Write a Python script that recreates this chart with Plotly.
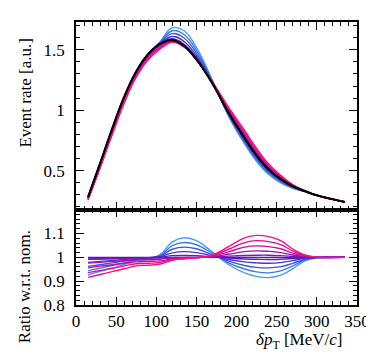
import plotly.graph_objects as go
from plotly.subplots import make_subplots

# ---- data ----
x_vals = [15, 30, 45, 60, 75, 90, 105, 120, 135, 150, 170, 190, 210, 225, 240, 255, 270, 285, 300, 335]

nominal = [0.28, 0.56, 0.845, 1.11, 1.32, 1.465, 1.55, 1.58, 1.53, 1.42, 1.22, 0.98, 0.77, 0.625, 0.51, 0.43, 0.37, 0.33, 0.295, 0.24]

ratio_b5 = [0.926, 0.941, 0.955, 0.970, 0.985, 0.993, 1.012, 1.065, 1.082, 1.070, 1.022, 0.970, 0.935, 0.920, 0.915, 0.925, 0.952, 0.985, 0.998, 1.000]
ratio_b4 = [0.944, 0.955, 0.966, 0.977, 0.989, 0.995, 1.009, 1.049, 1.062, 1.053, 1.017, 0.977, 0.951, 0.939, 0.935, 0.943, 0.964, 0.989, 0.998, 1.000]
ratio_b3 = [0.962, 0.969, 0.977, 0.984, 0.992, 0.996, 1.006, 1.034, 1.043, 1.036, 1.011, 0.984, 0.966, 0.958, 0.956, 0.961, 0.975, 0.992, 0.999, 1.000]
ratio_b2 = [0.979, 0.983, 0.987, 0.991, 0.996, 0.998, 1.003, 1.019, 1.024, 1.020, 1.006, 0.991, 0.981, 0.977, 0.975, 0.978, 0.986, 0.996, 0.999, 1.000]
ratio_b1 = [0.993, 0.994, 0.995, 0.997, 0.998, 0.999, 1.001, 1.007, 1.008, 1.007, 1.002, 0.997, 0.993, 0.992, 0.991, 0.992, 0.995, 0.998, 1.000, 1.000]
ratio_c0 = [1.000, 1.000, 1.000, 1.000, 1.000, 1.000, 1.000, 1.000, 1.000, 1.000, 1.000, 1.000, 1.000, 1.000, 1.000, 1.000, 1.000, 1.000, 1.000, 1.000]
ratio_m1 = [0.992, 0.993, 0.994, 0.995, 0.996, 0.997, 0.997, 0.999, 0.999, 1.000, 1.001, 1.005, 1.008, 1.009, 1.009, 1.007, 1.004, 1.001, 1.000, 1.000]
ratio_m2 = [0.976, 0.979, 0.983, 0.986, 0.990, 0.990, 0.992, 0.997, 0.998, 0.999, 1.003, 1.013, 1.024, 1.027, 1.025, 1.020, 1.010, 1.003, 1.000, 1.000]
ratio_m3 = [0.956, 0.963, 0.969, 0.975, 0.981, 0.983, 0.985, 0.994, 0.997, 0.999, 1.005, 1.023, 1.043, 1.048, 1.045, 1.036, 1.018, 1.005, 1.001, 1.000]
ratio_m4 = [0.936, 0.945, 0.954, 0.964, 0.973, 0.975, 0.979, 0.991, 0.995, 0.998, 1.008, 1.034, 1.062, 1.070, 1.066, 1.053, 1.027, 1.008, 1.001, 1.000]
ratio_m5 = [0.916, 0.928, 0.940, 0.952, 0.964, 0.967, 0.972, 0.988, 0.994, 0.998, 1.010, 1.045, 1.082, 1.092, 1.087, 1.070, 1.035, 1.010, 1.001, 1.000]

variations = [ratio_b5, ratio_b4, ratio_b3, ratio_b2, ratio_b1, ratio_c0,
              ratio_m1, ratio_m2, ratio_m3, ratio_m4, ratio_m5]
colors = ["#3f9fff", "#3c78f0", "#3f55e0", "#4638d2", "#5022c4", "#5c14b8",
          "#7e14b4", "#a212a8", "#c4109c", "#e40e8e", "#ff0e80"]

x_ticks = [0, 50, 100, 150, 200, 250, 300, 350]
top_ticks = [0.5, 1, 1.5]
top_tick_text = ["0.5", "1", "1.5"]
bot_ticks = [0.8, 0.9, 1.0, 1.1]
bot_tick_text = ["0.8", "0.9", "1", "1.1"]

FONT = "Liberation Serif"

fig = make_subplots(rows=2, cols=1, shared_xaxes=True, vertical_spacing=0,
                    row_heights=[0.6632, 0.3368])

for r, c in zip(variations, colors):
    top_y = [n * v for n, v in zip(nominal, r)]
    fig.add_trace(go.Scatter(x=x_vals, y=top_y, mode="lines",
                             line=dict(color=c, width=1.4, shape="spline", smoothing=1.2),
                             showlegend=False, hoverinfo="skip"), row=1, col=1)
fig.add_trace(go.Scatter(x=x_vals, y=nominal, mode="lines",
                         line=dict(color="black", width=2.2, shape="spline", smoothing=1.2),
                         showlegend=False, hoverinfo="skip"), row=1, col=1)
for r, c in zip(variations, colors):
    fig.add_trace(go.Scatter(x=x_vals, y=r, mode="lines",
                             line=dict(color=c, width=1.4, shape="spline", smoothing=1.2),
                             showlegend=False, hoverinfo="skip"), row=2, col=1)

axis_common = dict(showline=True, linecolor="black", linewidth=1.6, mirror="allticks",
                   ticks="inside", tickcolor="black", tickwidth=1.2, showgrid=False, zeroline=False,
                   tickfont=dict(family=FONT, size=17, color="black"))

fig.update_xaxes(range=[0, 350], tickvals=x_ticks, ticklen=8,
                 minor=dict(ticks="inside", ticklen=4, dtick=10, tick0=0, tickcolor="black", tickwidth=1),
                 **axis_common)
fig.update_xaxes(showticklabels=False, row=1, col=1)
fig.update_xaxes(showticklabels=True, ticktext=[str(v) for v in x_ticks], row=2, col=1)

fig.update_yaxes(range=[0.176, 1.73], tickvals=top_ticks, ticktext=top_tick_text, ticklen=8,
                 minor=dict(ticks="inside", ticklen=4, dtick=0.1, tick0=0, tickcolor="black", tickwidth=1),
                 ticklabelstandoff=6, row=1, col=1, **axis_common)
fig.update_yaxes(range=[0.8, 1.2], tickvals=bot_ticks, ticktext=bot_tick_text, ticklen=8,
                 minor=dict(ticks="inside", ticklen=4, dtick=0.02, tick0=0, tickcolor="black", tickwidth=1),
                 ticklabelstandoff=6, row=2, col=1, **axis_common)

fig.add_annotation(text="Event rate [a.u.]", xref="paper", yref="paper", x=-0.183, y=0.749,
                   textangle=-90, showarrow=False, xanchor="center", yanchor="middle",
                   font=dict(family=FONT, size=17, color="black"))
fig.add_annotation(text="Ratio w.r.t. nom.", xref="paper", yref="paper", x=-0.183, y=0.065,
                   textangle=-90, showarrow=False, xanchor="center", yanchor="middle",
                   font=dict(family=FONT, size=17, color="black"))
fig.add_annotation(text="<i>δp</i><sub>T</sub> [MeV/<i>c</i>]", xref="paper", yref="paper", x=0.792, y=-0.126,
                   showarrow=False, xanchor="center", yanchor="middle",
                   font=dict(family=FONT, size=17, color="black"))

fig.update_layout(width=374, height=354, margin=dict(l=68, r=22, t=12, b=57),
                  paper_bgcolor="white", plot_bgcolor="white")

fig.write_html("out.html")
